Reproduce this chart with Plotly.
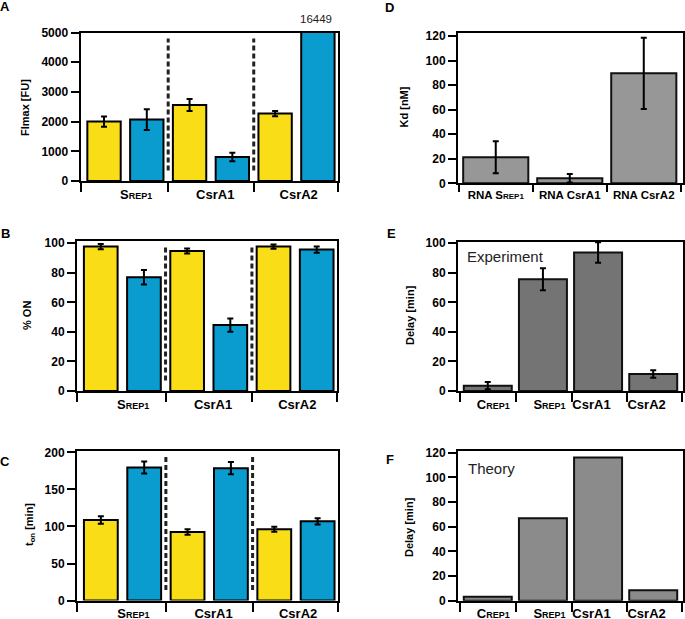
import plotly.graph_objects as go

# ---------------- data ----------------
groups_abc = ["S<span style='font-size:9px'>REP1</span>", "CsrA1", "CsrA2"]

A_yellow = [2000, 2560, 2270]
A_yellow_err = [170, 200, 90]
A_blue = [2070, 810, 16449]
A_blue_err = [350, 145, 0]

B_yellow = [97.7, 94.8, 97.7]
B_yellow_err = [1.7, 1.7, 1.4]
B_blue = [76.9, 44.6, 95.7]
B_blue_err = [4.9, 4.5, 2.1]

C_yellow = [108.8, 92.6, 96.2]
C_yellow_err = [5.0, 3.8, 3.3]
C_blue = [179.7, 178.8, 107.0]
C_blue_err = [8.0, 8.3, 4.3]

D_labels = ["RNA S<span style='font-size:8px'>REP1</span>", "RNA CsrA1", "RNA CsrA2"]
D_values = [21.2, 4.1, 89.6]
D_err = [13.0, 3.5, 29.0]

EF_labels = ["C<span style='font-size:9px'>REP1</span>", "S<span style='font-size:9px'>REP1</span>", "CsrA1", "CsrA2"]
E_values = [3.6, 75.6, 93.7, 11.5]
E_err = [2.5, 7.4, 7.0, 2.6]
F_values = [3.2, 66.8, 116.2, 8.4]

A_clip_label = "16449"

# ---------------- style ----------------
W, H = 685, 619
FONT = "Liberation Sans, Arial, sans-serif"
YELLOW = "#F9DD17"
BLUE = "#0A9BCF"
GRAY_D = "#979797"
GRAY_E = "#747474"
GRAY_F = "#8B8B8B"


def px_x(p):
    return p / W


def px_y(p):
    return 1 - p / H


fig = go.Figure()

# panel geometry (pixels): x0, x1, ytop, ybottom
geo = {
    1: (80.5, 338, 32.5, 181),
    2: (77, 337, 241, 391),
    3: (77, 338, 451, 600.5),
    4: (458, 683, 33.3, 183.3),
    5: (458, 683, 241.7, 391),
    6: (458, 683, 451, 600.7),
}

err_style = dict(type="data", color="black", thickness=2, width=3)

abc = [
    (1, A_yellow, A_yellow_err, A_blue, A_blue_err, [0, 5000], list(range(0, 5001, 1000))),
    (2, B_yellow, B_yellow_err, B_blue, B_blue_err, [0, 101.5], list(range(0, 101, 20))),
    (3, C_yellow, C_yellow_err, C_blue, C_blue_err, [0, 202], list(range(0, 201, 50))),
]

layout_axes = {}


def ax_names(n):
    return ("x" if n == 1 else f"x{n}"), ("y" if n == 1 else f"y{n}")


def lay_names(n):
    return ("xaxis" if n == 1 else f"xaxis{n}"), ("yaxis" if n == 1 else f"yaxis{n}")


for n, yv, ye, bv, be, yr, ytv in abc:
    xa, ya = ax_names(n)
    xs_y = [2 * g for g in range(len(groups_abc))]
    xs_b = [2 * g + 1 for g in range(len(groups_abc))]
    fig.add_trace(go.Bar(x=xs_y, y=yv, width=0.78, xaxis=xa, yaxis=ya,
                         marker=dict(color=YELLOW, line=dict(color="black", width=2)),
                         error_y=dict(array=ye, **err_style), showlegend=False))
    fig.add_trace(go.Bar(x=xs_b, y=bv, width=0.78, xaxis=xa, yaxis=ya,
                         marker=dict(color=BLUE, line=dict(color="black", width=2)),
                         error_y=dict(array=be, **err_style), showlegend=False))
    x0, x1, yt, yb = geo[n]
    lx, ly = lay_names(n)
    layout_axes[lx] = dict(domain=[px_x(x0), px_x(x1)], range=[-0.55, 5.47], anchor=ya,
                           tickmode="array", tickvals=[0.75, 2.6, 4.55], ticktext=groups_abc,
                           ticks="", tickfont=dict(family=FONT, size=13, color="black", weight="bold"),
                           minor=dict(tickmode="array", tickvals=[-0.55, 1.5, 3.5, 5.47], ticks="outside",
                                      ticklen=9, tickwidth=2, tickcolor="black"))
    layout_axes[ly] = dict(domain=[px_y(yb), px_y(yt)], range=yr, anchor=xa,
                           tickmode="array", tickvals=ytv)
    for xd in (1.5, 3.5):
        fig.add_shape(type="line", xref=xa, yref=f"{ya} domain", x0=xd, x1=xd, y0=0.07, y1=0.96,
                      line=dict(color="#222222", width=3, dash="5px,3px"))

# Panel D
xa, ya = ax_names(4)
fig.add_trace(go.Bar(x=list(range(len(D_labels))), y=D_values, width=0.88, xaxis=xa, yaxis=ya,
                     marker=dict(color=GRAY_D, line=dict(color="#111111", width=2)),
                     error_y=dict(array=D_err, **err_style), showlegend=False))
x0, x1, yt, yb = geo[4]
lx, ly = lay_names(4)
layout_axes[lx] = dict(domain=[px_x(x0), px_x(x1)], range=[-0.51, 2.53], anchor=ya,
                       tickmode="array", tickvals=list(range(len(D_labels))), ticktext=D_labels,
                       ticks="", tickfont=dict(family=FONT, size=11.5, color="black", weight="bold"),
                       minor=dict(tickmode="array", tickvals=[-0.5, 0.5, 1.5, 2.5], ticks="outside",
                                  ticklen=7, tickwidth=2, tickcolor="black"))
layout_axes[ly] = dict(domain=[px_y(yb), px_y(yt)], range=[0, 122.2], anchor=xa,
                       tickmode="array", tickvals=list(range(0, 121, 20)))

# Panels E, F
for n, vals, errs, col, yr in [(5, E_values, E_err, GRAY_E, [0, 101]), (6, F_values, None, GRAY_F, [0, 121.4])]:
    xa, ya = ax_names(n)
    kw = {}
    if errs is not None:
        kw["error_y"] = dict(array=errs, **err_style)
    fig.add_trace(go.Bar(x=list(range(len(EF_labels))), y=vals, width=0.87, xaxis=xa, yaxis=ya,
                         marker=dict(color=col, line=dict(color="#111111", width=2)),
                         showlegend=False, **kw))
    x0, x1, yt, yb = geo[n]
    lx, ly = lay_names(n)
    layout_axes[lx] = dict(domain=[px_x(x0), px_x(x1)], range=[-0.54, 3.54], anchor=ya,
                           tickmode="array", tickvals=[0.1, 1.12, 1.88, 2.88], ticktext=EF_labels,
                           ticks="", tickfont=dict(family=FONT, size=13, color="black", weight="bold"),
                           minor=dict(tickmode="array", tickvals=[-0.5, 0.52, 1.53, 2.52, 3.52], ticks="outside",
                                      ticklen=9, tickwidth=2, tickcolor="black"))
    layout_axes[ly] = dict(domain=[px_y(yb), px_y(yt)], range=yr, anchor=xa,
                           tickmode="array", tickvals=list(range(0, int(yr[1]) + 1, 20)))

# common axis styling
for k, v in layout_axes.items():
    v.update(showline=True, linecolor="black", linewidth=2, mirror=True, automargin=False,
             showgrid=False, zeroline=False, fixedrange=True)
    if k.startswith("yaxis"):
        v.update(ticks="outside", ticklen=8, tickwidth=2, tickcolor="black",
                 tickfont=dict(family=FONT, size=12, color="black", weight="bold"))

fig.update_layout(**layout_axes)

annotations = []
# panel letters
for letter, (px, py) in {"A": (5, 6), "B": (5, 233), "C": (5, 461),
                         "D": (389, 7), "E": (391, 233), "F": (390, 459)}.items():
    annotations.append(dict(text=letter, x=px_x(px), y=px_y(py), xref="paper", yref="paper",
                            showarrow=False, xanchor="center", yanchor="middle",
                            font=dict(family=FONT, size=13, color="black", weight="bold")))
# y titles
for txt, (px, py) in {"FImax [FU]": (25, 107), "% ON": (27, 316), "t<sub>on</sub> [min]": (30, 525),
                      "Kd [nM]": (403.5, 107), "Delay [min]": (410, 315)}.items():
    annotations.append(dict(text=txt, x=px_x(px), y=px_y(py), xref="paper", yref="paper",
                            showarrow=False, textangle=-90, xanchor="center", yanchor="middle",
                            font=dict(family=FONT, size=11, color="black", weight="bold")))
annotations.append(dict(text="Delay [min]", x=px_x(409), y=px_y(527), xref="paper", yref="paper",
                        showarrow=False, textangle=-90, xanchor="center", yanchor="middle",
                        font=dict(family=FONT, size=11, color="black", weight="bold")))
# in-plot texts
annotations.append(dict(text="Experiment", x=px_x(465), y=px_y(256), xref="paper", yref="paper",
                        showarrow=False, xanchor="left", yanchor="middle",
                        font=dict(family=FONT, size=15, color="#222222")))
annotations.append(dict(text="Theory", x=px_x(466), y=px_y(468), xref="paper", yref="paper",
                        showarrow=False, xanchor="left", yanchor="middle",
                        font=dict(family=FONT, size=15, color="#222222")))
annotations.append(dict(text=A_clip_label, x=px_x(316), y=px_y(19), xref="paper", yref="paper",
                        showarrow=False, xanchor="center", yanchor="middle",
                        font=dict(family=FONT, size=11.5, color="#222222")))

fig.update_layout(width=W, height=H, margin=dict(l=0, r=0, t=0, b=0, autoexpand=False),
                  paper_bgcolor="white", plot_bgcolor="white", barmode="overlay",
                  annotations=annotations, showlegend=False, font=dict(family=FONT))

fig.write_html("out.html", config={"displayModeBar": False, "staticPlot": True},
               post_script="document.body.style.margin='0';document.body.style.overflow='hidden';")
